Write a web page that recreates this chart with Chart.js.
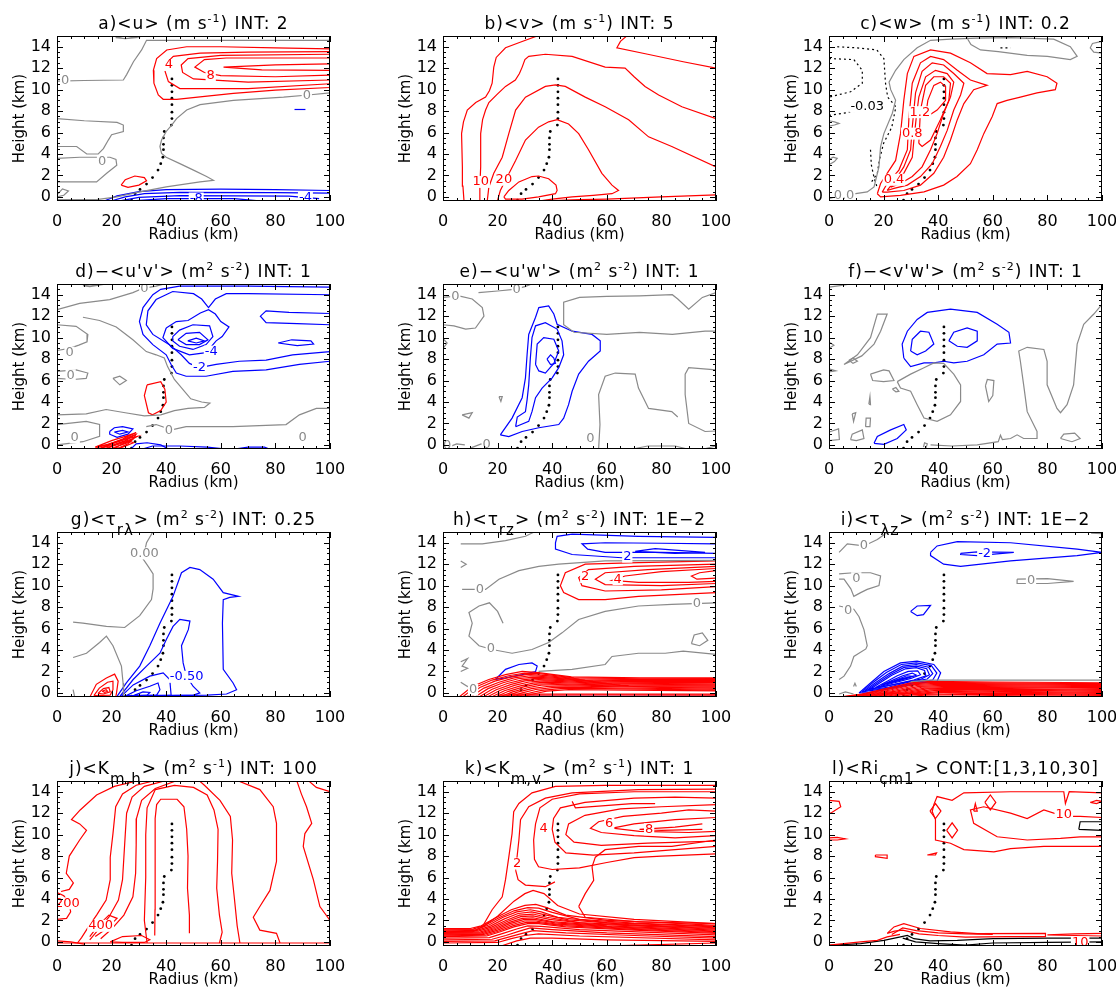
<!DOCTYPE html>
<html>
<head>
<meta charset="utf-8">
<script src="https://cdn.jsdelivr.net/npm/chart.js@4.4.1/dist/chart.umd.min.js"></script>
<style>
  body { margin: 0; background: #fff; }
  #wrap { position: relative; width: 1116px; height: 987px; overflow: hidden; background: #fff; }
  canvas { position: absolute; }
</style>
</head>
<body>
<div id="wrap"></div>
<script>
// axis ticks shared by every panel
const xTicks = [0, 20, 40, 60, 80, 100];
const yTicks = [0, 2, 4, 6, 8, 10, 12, 14];

// radius of max wind (black dots), same in all panels
const rmw = [[27.3,-0.3],[28.6,0.3],[30.4,0.7],[32.8,1.2],[35,1.8],[37,2.5],[38,3.1],[38.8,3.7],[39,4.4],[39,4.9],[39,5.5],[39.3,6.1],[41.9,6.7],[42.1,7.3],[42.1,7.9],[42.1,8.6],[42.1,9.2],[42.1,9.8],[42.1,10.4],[42.1,11.0]];

// ---- a) <u>
const aRed = [
  [[100,13.8],[80,13.9],[60,14.0],[47.5,14.0],[40.2,13.7],[36.5,12.9],[35.3,11.8],[35.5,10.6],[37.1,9.5],[38.9,9.1],[43.8,9.1],[55,9.4],[64.6,9.66],[80,9.95],[100,10.2]],
  [[100,13.55],[70,13.5],[52.4,13.4],[42.6,13.1],[40.2,12.5],[39.6,11.7],[40.8,10.75],[45,10.1],[70,10.1],[100,10.55]],
  [[100,13.3],[60,13.2],[48,12.9],[45.5,12.3],[46,11.6],[50,11.0],[70,10.7],[100,10.9]],
  [[100,12.95],[62,12.95],[54,12.8],[50.5,12.1],[54,11.6],[60,11.3],[80,11.2],[100,11.35]],
  [[100,12.4],[80,12.3],[61,12.1],[75,11.85],[100,11.8]],
  [[23.5,1.1],[25,1.6],[28.5,1.95],[32,1.8],[32.8,1.5],[30,1.1],[26,0.9],[23.5,1.1]]
];
const aBlue = [
  [[17,-0.4],[22,0.1],[30,0.5],[40,0.68],[60,0.72],[80,0.68],[100,0.6]],
  [[19.5,-0.4],[25,0.0],[32,0.3],[45,0.42],[80,0.4],[100,0.35]],
  [[22.5,-0.4],[30,-0.05],[45,0.12],[85,0.08],[96,-0.15]],
  [[26,-0.4],[40,-0.15],[65,-0.15],[75,-0.4]],
  [[87,8.15],[91,8.15]]
];
const aGray = [
  [[0,10.8],[10,10.85],[24.3,10.9],[25.5,11.4],[28,12.6],[31,13.7],[32.8,14.6],[40,14.6],[60,14.6],[100,14.6]],
  [[100,9.7],[92,9.5],[83,9.3],[64.6,9.0],[52.4,8.6],[47.5,8.1],[43.8,7.3],[42,6.7],[40,6.1],[38.3,5.3],[37.7,4.7],[38.3,4.05],[40,3.7],[45,3.1],[50,2.5],[54.8,1.9],[57.3,1.55],[52.4,1.4],[40,0.93],[30.4,0.47],[21.9,0.0],[14.5,-0.25],[0,-0.25]],
  [[0,7.3],[10,7.1],[22,6.95],[24.3,6.7],[24.3,6.1],[20,5.8],[18.8,5.3],[17,4.5],[15.1,4.0],[10.9,4.0],[7.2,4.7],[0,4.7]],
  [[0,3.6],[8.4,3.7],[19.4,3.7],[21.6,3.5],[21.9,2.96],[18.2,2.2],[14.5,1.4],[0,1.4]],
  [[0,0.2],[2,0.75],[4.2,0.55],[2.5,0.15],[0,0.0]],
  [[21.5,14.85],[25,15.0],[29,14.85],[25,14.75],[21.5,14.85]]
];
const aLabels = [[3,10.8,'0','g'],[16.5,3.3,'0','g'],[91.5,9.4,'0','g'],[41,12.3,'4','r'],[56.3,11.3,'8','r'],[51,-0.15,'-8','b'],[91,-0.1,'-4','b']];

// ---- b) <v>
const bRed = [
  [[7.7,-0.4],[7.3,1],[7.1,2.8],[6.8,5.9],[7.5,7],[8.9,8.1],[12,8.8],[15.6,9.3],[17,9.9],[18,10.6],[18.6,12.1],[19.5,13],[22.9,13.9],[28,14.4],[35,15.05]],
  [[67.5,15.05],[65,14.5],[63.7,13.9],[75,13.3],[88,12.6],[100,12.0]],
  [[13.2,-0.4],[13.5,1],[13.8,2.8],[13.8,5.9],[14.5,7.2],[15.6,8.1],[16.8,8.8],[20,9.6],[22.9,10.3],[26.5,10.9],[28,11.5],[29,12.1],[30,12.8],[31.4,13.1],[37.5,13.3],[47.3,13.1],[59.4,12.1],[66.7,12.0],[70,11.2],[74,10.3],[79,9.5],[87.5,8.4],[100,7.3]],
  [[16.2,-0.4],[16.8,0.93],[18.6,2.2],[21.7,3.7],[24.1,5.9],[26.6,8.1],[30.2,9.3],[37.5,10.3],[41.2,10.45],[44.8,10.3],[52.1,9.3],[59.4,8.4],[68,7.2],[75.3,5.6],[83.8,4.7],[100,2.8]],
  [[19.9,-0.4],[21,0.6],[22.9,1.56],[26.6,3.4],[30.2,5.3],[35,6.5],[38.7,7.0],[41.8,7.2],[46,6.8],[49.7,5.9],[53.3,4.4],[58.2,2.2],[61.9,1.1],[64.3,0.6],[61.9,0.3],[55,0.15],[47.3,0.0],[40,-0.2],[35,-0.4]],
  [[22.3,0.0],[24.1,0.6],[27.8,1.4],[32.6,1.9],[35,1.95],[38.7,1.7],[41.4,1.1],[41.8,0.6],[41.2,0.3],[35,0.0],[29,-0.2],[22.9,-0.2],[22.3,0.0]],
  [[35,-0.4],[50,-0.25],[60,-0.2],[80,0.0],[100,0.2]]
];
const bLabels = [[13.8,1.4,'10','r'],[22.3,1.6,'20','r']];

// ---- c) <w>
const cRed = [
  [[17.7,0.3],[18.9,1.25],[21.3,2.2],[24.4,3.4],[26.2,5.9],[27.4,9.0],[28.7,11.5],[31.1,13.1],[37.2,13.7],[44.5,13.4],[51.8,12.5],[57.9,11.5],[66.5,11.4],[72.6,11.7],[79.9,11.2],[83.5,10.6],[82.9,10.0],[76.2,9.7],[70.1,9.3],[65.2,9.0],[61.6,8.7],[59.8,7.5],[56.7,5.9],[54.3,4.4],[51.8,3.1],[46.9,1.9],[42,1.1],[34.8,0.47],[26.2,0.15],[18.9,0.0],[17.7,0.3]],
  [[19.5,0.45],[21.3,1.25],[25.6,2.5],[28.7,4.4],[29.3,7.5],[30.5,10.6],[33.5,12.5],[37.2,13.1],[42,12.8],[47,11.8],[51.8,10.9],[57.9,10.4],[53,10.0],[49.4,8.7],[47,7.2],[44.5,5.3],[42,3.7],[38.4,2.2],[33.5,1.1],[27.4,0.6],[21.3,0.45],[19.5,0.45]],
  [[21.3,0.6],[23.8,1.4],[27.4,2.8],[29.9,4.4],[30.5,6.5],[31.7,9.7],[34.1,11.7],[37.8,12.5],[42,12.3],[45.7,11.5],[49.4,10.6],[48.2,9.5],[45.7,8.1],[43.3,6.2],[40.8,4.7],[37.8,3.1],[33.5,1.9],[28.7,1.1],[23.8,0.8],[21.3,0.6]],
  [[22.6,0.9],[27.4,2.2],[30.5,3.7],[31.1,5.3],[32,7.5],[32.9,9.3],[35.4,11.2],[39,11.8],[43.3,11.5],[45.7,10.7],[44.5,9.3],[42,7.8],[39.6,5.9],[37.2,4.4],[34.1,2.8],[30.5,1.9],[26.2,1.25],[22.6,0.9]],
  [[32.9,5.0],[33.5,8.1],[35.4,10.4],[38.4,11.2],[42,11.2],[44.5,10.6],[43.9,9.0],[40.8,7.2],[37.2,5.3],[34.1,4.7],[32.9,5.0]],
  [[35.4,7.5],[36.2,9.0],[38.4,10.4],[40.8,10.7],[42.7,10.3],[42.7,9.0],[39.6,8.1],[36,7.5],[35.4,7.5]]
];
const cGray = [
  [[0,-0.15],[5.5,0.15],[14,0.47],[16.5,0.93],[18.3,2.8],[18.9,4.7],[20.1,5.9],[23.2,7.8],[24.4,9.0],[22.6,10.0],[22,10.7],[24.4,11.8],[27.4,12.8],[32.3,13.9],[37.2,14.6],[44.5,14.7],[54.3,14.8],[66.5,14.85],[82.3,14.7],[88.4,14.0],[90.9,13.1],[88.4,12.8],[80,13.1],[72.6,13.2],[62,13.55],[55.5,13.7],[52,14.2],[50,15.05]],
  [[100,14.5],[96.5,14.3],[95.7,13.9],[97,13.5],[100,13.4]],
  [[0,7.1],[2,7.0],[3.7,6.85],[2,6.7],[0,6.6]],
  [[0,3.0],[2,3.3],[3,3.6],[1.5,3.7],[0,3.5]]
];
const cDotted = [
  [[3,14.0],[10,13.9],[17.5,13.7],[20.1,12.9],[20.7,10.6],[21.5,9.3],[24.5,8.4],[23,6.5],[20,5.0],[18.5,3.5],[17.7,2.2],[15.2,1.25]],
  [[0,12.9],[9.1,12.8],[12.2,11.8],[12.2,10.6],[7.9,9.8],[0,9.3]],
  [[0,7.6],[7.9,7.9],[14,8.2],[20.1,8.9]],
  [[15.2,4.4],[15.5,3],[16.5,1.8],[17.5,1.0]],
  [[62.8,13.9],[66.5,13.9]]
];
const cLabels = [[14,8.4,'-0.03','k'],[5.5,0.1,'0.0','g'],[23.8,1.6,'0.4','r'],[30.5,5.9,'0.8','r'],[33.3,7.9,'1.2','r']];

// ---- d) -<u'v'>
const dBlue = [
  [[100,14.7],[70,14.8],[44.9,14.8],[38,14.5],[35.1,14.0],[31.5,12.8],[30.2,11.5],[31.5,10.3],[35.1,9.35],[40,8.4],[41.8,7.5],[43.7,6.7],[47.3,6.4],[54.6,6.4],[64.4,6.85],[76.6,7.0],[88.8,7.5],[100,7.8]],
  [[100,14.0],[70,14.1],[62,14.1],[58,13.6],[55.5,12.8],[53,13.6],[50,14.1],[42.4,14.3],[36.3,13.55],[33.3,12.5],[32.7,11.2],[35.1,10.3],[41.2,9.35],[45.5,8.4],[48.5,7.6],[52.2,7.2],[58.3,7.5],[66.8,7.8],[76.6,7.9],[86.3,8.4],[100,8.7]],
  [[100,12.25],[85,12.35],[76.6,12.5],[74.5,12.0],[76.6,11.4],[88,11.3],[100,11.2]],
  [[40,10.9],[43.7,11.5],[48,11.6],[52.5,12.3],[55.5,12.6],[58,12.2],[60,11.5],[63,11.0],[60.5,10.1],[58.3,9.7],[54.6,8.6],[48.5,8.4],[42.4,9.0],[38.8,10.0],[40,10.9]],
  [[42.4,10.1],[44.9,10.7],[49.8,11.2],[55.9,11.1],[57.1,10.1],[54.6,9.35],[49.8,8.9],[44.9,9.2],[42.4,9.7],[42.4,10.1]],
  [[44.3,9.8],[47.3,10.4],[52.2,10.5],[55.3,9.8],[52.2,9.35],[47.3,9.35],[44.3,9.8]],
  [[47.9,9.7],[51,9.95],[54,9.7],[51,9.5],[47.9,9.7]],
  [[81,9.5],[86,9.8],[93,9.7],[94,9.4],[88,9.25],[81,9.5]],
  [[19.3,1.25],[21,1.6],[24,1.7],[27.8,1.5],[26,1.0],[22,0.7],[19.3,1.0],[19.3,1.25]],
  [[21,1.2],[24,1.35],[26,1.2],[23,1.0],[21,1.2]],
  [[27,-0.4],[29,0.1],[33,0.2],[38,0.0],[41,-0.4]],
  [[31,-0.4],[35,-0.1],[45,-0.1],[55,-0.2],[62,-0.4]],
  [[65,-0.4],[70,-0.2],[76,-0.2],[78,-0.4]]
];
const dRed = [
  [[33,5.6],[38,5.9],[39.5,5.2],[40,4.0],[38,3.2],[35,2.8],[33.5,3.0],[32,4.6],[33,5.6]],
  [[13,-0.4],[18,0.0],[24,0.5],[29,1.0],[28,0.6],[22,0.1],[17,-0.4]],
  [[15,-0.4],[20,0.1],[26,0.6],[29.5,0.8],[26,0.35],[20,-0.15],[18,-0.4]],
  [[19,-0.4],[23,-0.05],[27,0.3],[28,0.2],[24,-0.2],[22,-0.4]],
  [[14,-0.2],[20,0.4],[25,0.8],[29,1.15],[24,0.55],[19,0.05],[14,-0.2]],
  [[16,-0.3],[21,0.2],[25.5,0.6],[28.5,0.9],[25,0.4],[20,-0.05],[16,-0.3]],
  [[20.5,-0.35],[24,0.1],[27.5,0.45],[26,0.1],[23,-0.25],[20.5,-0.35]]
];
const dGray = [
  [[0,12.6],[8.3,13.2],[19.3,13.55],[27.8,14.2],[31.5,14.6],[36.3,14.8],[40,15.05]],
  [[9.5,14.85],[12,14.95],[15.6,14.9],[12,14.75],[9.5,14.85]],
  [[0,11.2],[7,11.05],[11.3,10.3],[11,9.6],[8,9.3],[4.6,9.0],[0,8.8]],
  [[0,6.85],[7,7.0],[11.3,6.7],[10.7,6.2],[5.9,6.1],[0,6.2]],
  [[20.5,6.2],[23,6.4],[25.4,6.0],[23,5.6],[20.5,6.2]],
  [[9.5,11.9],[15.6,11.6],[21.7,11.0],[27.8,9.8],[32.7,8.7],[36.3,8.4],[39.3,8.1],[40.5,7.3],[43,6.1],[46,5.2],[49,4.3],[53,4.0],[56,3.9],[54,3.5],[48,3.4],[43,3.2],[38,2.8],[32,2.7],[25,3.0],[18,3.3],[10.7,2.9],[0,2.8]],
  [[0,1.9],[10.7,2.2],[15.6,1.9],[15.6,0.8],[9.5,0.3],[0,0.0]],
  [[32.7,1.7],[36.3,1.9],[42,1.4],[47.3,1.7],[64.4,1.7],[83.9,1.9],[88.8,2.8],[95,3.4],[100,3.4]]
];
const dLabels = [[32,14.6,'0','g'],[4.6,8.6,'0','g'],[5,6.5,'0','g'],[6.5,0.7,'0','g'],[41,1.3,'0','g'],[90,0.7,'0','g'],[56.5,8.7,'-4','b'],[52.2,7.2,'-2','b']];

// ---- e) -<u'w'>
const eBlue = [
  [[21,0.94],[25.3,2.5],[29,4.4],[30.2,6.25],[30.8,8.4],[31.4,10.3],[33.9,11.9],[35.1,12.8],[38.7,12.95],[40.6,12.2],[41.8,11.25],[47.3,10.6],[54.6,10.3],[57.6,9.7],[57.6,8.75],[53.3,7.8],[49.7,6.6],[47.3,5.0],[46,3.75],[44.2,2.5],[42.4,1.9],[35.1,1.6],[29,1.25],[24.1,0.78],[21,0.94]],
  [[26.6,1.7],[27.2,2.6],[30.2,3.1],[30.8,4.2],[31.4,5.6],[32,8.1],[32.6,10.0],[33.9,11.1],[37.5,11.4],[41.8,10.8],[43.6,9.7],[44.2,8.4],[42.4,7.2],[40,6.25],[36.3,5.3],[33.9,4.4],[32.6,3.1],[31.4,2.2],[26.6,1.7]],
  [[33.9,7.5],[34.5,9.4],[36.9,10.0],[40.6,9.85],[42.4,8.75],[40.6,7.6],[37.5,6.7],[35.1,6.9],[33.9,7.5]],
  [[38.1,8.0],[39.4,8.4],[40.6,8.1],[41.2,7.6],[39.4,7.5],[38.1,8.0]]
];
const eGray = [
  [[0,13.75],[5.8,13.9],[10.7,13.6],[14.4,12.8],[15,12.0],[11.9,10.9],[8.3,10.8],[4,11.1],[0,11.2]],
  [[13,14.2],[20,14.35],[26,14.5],[30,14.75],[33,15.05]],
  [[100,14.2],[95,13.75],[90,12.65],[86,13.6],[84,14.0],[72,13.9],[60,13.85],[50,13.75],[44.2,13.3],[44.2,11.2],[48,10.5],[60,10.3],[72,10.5],[84,10.3],[96,10.6],[100,10.6]],
  [[100,7.0],[90,7.2],[88.7,6.6],[88.7,4.7],[90,2.0],[96,1.25],[100,1.3]],
  [[57,-0.4],[57.5,1.9],[57,4.7],[59.4,6.4],[63.1,6.7],[70.4,6.6],[71.6,5.3],[75.3,3.4],[83.8,3.1],[86,2.6]],
  [[20.5,4.5],[21.7,4.5],[21.2,4.05],[20.5,4.5]],
  [[7,2.8],[10.7,3.0],[9.5,2.5],[7,2.8]],
  [[0,9.9],[1.5,9.5],[0,9.0]],
  [[53.3,0.6],[54.5,0.85],[55,0.5],[53.8,0.35],[53.3,0.6]],
  [[2,-0.2],[5,0.1],[8,0.0]],
  [[10,-0.3],[14,0.1],[17,-0.1]],
  [[69,-0.4],[75,-0.1],[85,-0.1],[90,-0.4]],
  [[95,-0.4],[100,-0.1]]
];
const eLabels = [[4.5,13.8,'0','g'],[27,14.45,'0','g'],[1.5,-0.1,'0','g'],[16,0.0,'0','g'],[54,0.6,'0','g']];

// ---- f) -<v'w'>
const fBlue = [
  [[27.4,8.1],[26.8,9.4],[28.7,10.6],[32.3,11.7],[36,12.35],[44.5,12.65],[54.3,12.35],[61.6,11.25],[65.9,10.5],[66.5,9.5],[61.6,9.4],[56.7,8.4],[50.6,7.8],[45.7,7.65],[42,7.8],[38.4,7.65],[34.8,7.65],[29.9,7.3],[27.4,8.1]],
  [[29.9,8.75],[30.5,9.85],[33.5,10.6],[36.6,10.5],[38.4,9.4],[35.4,8.75],[32.3,8.4],[29.9,8.75]],
  [[43.9,9.7],[45.7,10.5],[50.6,10.9],[54.3,10.6],[54.3,9.7],[50.6,9.1],[47,9.2],[43.9,9.7]],
  [[16.5,0.15],[17.7,0.78],[22.6,1.4],[27.4,1.9],[28.3,1.4],[25,0.6],[20.1,0.06],[16.5,0.15]]
];
const fGray = [
  [[0,14.7],[4,14.85],[8,15.0]],
  [[5.5,7.5],[10.4,8.4],[15.2,10.0],[17.7,12.2],[21.3,12.2],[18.9,10.6],[16.5,9.4],[12,8.3],[5.5,7.5]],
  [[7.3,7.9],[8.8,8.1],[10.4,7.8],[8.8,7.6],[7.3,7.9]],
  [[0,9.0],[1.8,9.3],[0,9.6]],
  [[0,6.8],[2.5,6.9],[0,7.1]],
  [[15.2,6.6],[20,7.0],[22,6.9],[23.8,6.0],[20,5.9],[16,6.0],[15.2,6.6]],
  [[23.2,5.2],[24.5,5.35],[25.6,5.0],[24.5,4.95],[23.2,5.2]],
  [[14.6,3.8],[15.0,4.5],[15.2,3.75],[14.6,3.8]],
  [[8.5,2.9],[9.8,3.0],[9.0,2.2],[8.5,2.9]],
  [[13.4,1.7],[13.6,2.5],[15.2,2.5],[15.0,1.7],[13.4,1.7]],
  [[7.9,0.5],[8.5,1.0],[12.2,1.4],[12.8,0.6],[10,0.4],[7.9,0.5]],
  [[0,1.2],[3.5,1.5],[3.8,0.5],[0,0.4]],
  [[25,5.9],[29.9,6.6],[34.8,7.2],[38.4,7.65],[42,7.6],[45.7,6.6],[48.2,5.6],[48.2,4.05],[44.5,2.8],[39.6,2.2],[34.8,2.5],[32.3,3.75],[29.9,5.0],[26.2,5.3],[25,5.9]],
  [[37.2,0.0],[45,-0.1],[54.3,0.0],[62,0.3],[62.8,0.9],[63.5,0.5],[66.5,0.6],[68.9,0.94],[71.3,0.6],[76.2,0.6],[76.2,1.25],[72.6,3.1],[71.3,5.6],[70.1,7.8],[69.5,8.75],[72.6,9.1],[78.7,8.9],[79.9,7.8],[79.9,5.6],[83.5,3.4],[84.8,3.0],[87.2,3.75],[89.6,5.6],[90.9,9.4],[93.3,11.25],[97,12.2],[100,13.1]],
  [[57.3,5.5],[58,6.1],[60.4,6.0],[60,4.6],[58.5,4.05],[57.3,5.5]],
  [[84.8,0.6],[86,1.0],[90,1.1],[92,0.6],[89,0.3],[84.8,0.6]],
  [[34.6,-0.2],[35,0.2],[36,0.1],[35.5,-0.3]]
];
const fLabels = [];

// ---- g) <tau_r lambda>
const gGray = [
  [[35.2,15.05],[32.8,14.0],[31.5,12.5],[33.4,11.8],[35.2,11.1],[35.2,9.7],[34.6,8.7],[30.3,7.2],[24.8,6.1],[18.1,6.2],[9.5,6.5],[5.9,6.6]],
  [[5.9,3.3],[10.8,3.7],[15.6,4.7],[18.1,5.3],[20.5,4.4],[23.6,2.5],[24.2,0.93],[24.4,-0.4]],
  [[5.9,0.3],[6.5,-0.4]]
];
const gRed = [
  [[12,-0.4],[14.4,0.8],[18.1,1.4],[21.1,1.75],[22.4,1.1],[21.8,0.0],[21.5,-0.4]],
  [[13.5,-0.25],[15.5,0.45],[18.5,1.0],[20.5,1.1],[20.5,0.3],[19.5,-0.2],[13.5,-0.25]],
  [[15,-0.05],[17,0.4],[19,0.5],[19.5,0.1],[17,-0.1],[15,-0.05]],
  [[16.5,0.15],[18,0.3],[18.5,0.15],[17.5,0.05],[16.5,0.15]]
];
const gBlue = [
  [[21.8,-0.4],[25.4,0.93],[30.3,2.5],[34,4.4],[37.7,6.5],[42.5,9.0],[45.6,11.2],[48.7,11.7],[52.3,11.5],[57.2,10.6],[60.9,9.35],[66.5,9.0],[63.3,8.9],[60.9,8.7],[60.6,6.5],[60.9,2.2],[64.5,0.93],[65.8,0.3],[62.1,-0.1],[55,-0.2],[40,-0.25],[22,-0.4]],
  [[22.8,-0.4],[27.9,1.25],[32.8,2.5],[37.7,3.7],[40.1,5.0],[42.5,6.2],[45,6.85],[48.7,6.7],[48.1,5.9],[45.6,4.4],[46.2,2.8],[47.4,1.56],[49.9,0.6],[52.3,0.0],[50,-0.2],[24,-0.3]],
  [[23.6,-0.3],[27.9,0.75],[34,1.56],[38.9,1.87],[41.3,1.25],[41.8,-0.2],[30,-0.25],[23.6,-0.3]],
  [[25,-0.3],[29,0.2],[34,0.62],[37,0.93],[37.7,0.3],[36.5,-0.2],[25,-0.3]],
  [[28,-0.25],[31.5,0.1],[34,0.05],[33,-0.2],[28,-0.25]]
];
const gLabels = [[32,13.0,'0.00','g'],[47.5,1.5,'-0.50','b']];

// ---- h) <tau_rz>
const hBlue = [
  [[100,14.5],[71.6,14.6],[47.3,14.8],[41.8,14.6],[41.2,14.0],[41.2,13.4],[47.3,12.9],[65.5,12.6],[100,12.6]],
  [[100,13.9],[80,13.95],[59.4,14.0],[50.9,13.9],[53,13.4],[59.4,13.1],[80,13.1],[100,13.0]],
  [[70.4,13.2],[77.7,13.45],[96,13.1],[85,13.0],[70.4,13.2]],
  [[19.2,1.25],[22.9,2.2],[27.8,2.65],[32.6,2.8],[34.5,2.5],[33.9,2.0],[29,1.7],[22.9,1.4],[19.2,1.25]],
  [[27,-0.32],[60,-0.32],[100,-0.32]]
];
const hRed = [
  [[100,12.3],[71.6,12.15],[52.1,12.0],[44.8,11.2],[43,10.0],[44.2,9.35],[49.7,8.7],[59.4,8.7],[71.6,9.0],[100,9.35]],
  [[100,12.0],[70,11.8],[53.3,11.5],[49.7,10.75],[50.9,10.0],[59.4,9.5],[80,9.6],[100,9.9]],
  [[100,11.8],[75,11.5],[59.4,11.2],[55.8,10.6],[59.4,10.1],[80,10.0],[100,10.2]],
  [[100,11.6],[80,11.3],[66.7,10.9],[61.9,10.5],[71.6,10.3],[90,10.3],[100,10.4]],
  [[100,11.4],[94,11.2],[91,10.9],[93,10.6],[100,10.7]],
  [[5.8,-0.4],[10.7,0.6],[16.8,1.25],[22.9,1.7],[29,2.0],[35,1.9],[47,1.5],[72,1.4],[100,1.4]],
  [[7,-0.4],[12,0.55],[18,1.2],[24,1.6],[30,1.85],[36,1.78],[48,1.4],[72,1.32],[100,1.33]],
  [[8.5,-0.4],[13.5,0.5],[19,1.1],[25,1.5],[31,1.72],[38,1.62],[50,1.3],[74,1.24],[100,1.25]],
  [[10,-0.4],[15,0.45],[20.5,1.0],[26,1.4],[32,1.6],[40,1.48],[52,1.2],[75,1.15],[100,1.17]],
  [[11.5,-0.4],[16.5,0.4],[22,0.95],[27.5,1.32],[33,1.48],[42,1.36],[55,1.1],[78,1.06],[100,1.08]],
  [[13,-0.4],[18,0.35],[23.5,0.88],[29,1.22],[34,1.36],[44,1.24],[58,1.0],[80,0.97],[100,0.99]],
  [[14.5,-0.4],[19.5,0.3],[25,0.8],[30,1.12],[35,1.24],[46,1.12],[60,0.92],[80,0.89],[100,0.9]],
  [[16,-0.4],[21,0.25],[26.5,0.72],[31.5,1.02],[37,1.12],[48,1.0],[62,0.84],[82,0.8],[100,0.81]],
  [[17.5,-0.4],[22.5,0.2],[28,0.64],[33,0.92],[38,1.0],[50,0.9],[65,0.76],[85,0.72],[100,0.72]],
  [[19,-0.4],[24,0.15],[29.5,0.56],[34.5,0.82],[40,0.88],[52,0.8],[68,0.68],[100,0.63]],
  [[20.5,-0.4],[25.5,0.1],[31,0.48],[36,0.72],[42,0.77],[55,0.7],[70,0.6],[100,0.54]],
  [[22,-0.4],[27,0.05],[32.5,0.4],[38,0.6],[45,0.65],[60,0.58],[100,0.45]],
  [[24,-0.4],[29,0.0],[34,0.32],[40,0.5],[48,0.53],[65,0.46],[100,0.36]],
  [[26,-0.4],[31,-0.05],[36,0.24],[43,0.4],[52,0.42],[100,0.27]],
  [[28,-0.4],[33,-0.1],[38,0.16],[46,0.3],[100,0.2]],
  [[20,-0.2],[60,-0.19],[100,-0.2]],
  [[24,-0.12],[40,-0.1],[100,-0.12]]
];
const hGray = [
  [[6.5,13.9],[14.4,13.9],[22.9,14.2],[30.2,14.6],[33.8,15.05]],
  [[6.5,12.3],[8.5,12.0],[6.5,11.7]],
  [[7,9.65],[12,9.65],[15.6,9.65],[20.5,10.6],[27.8,11.4],[35.1,11.8],[42.4,12.0],[59.4,12.3],[100,12.35]],
  [[100,8.4],[83.8,8.25],[71.6,8.1],[59.4,7.6],[49.7,6.85],[43.6,5.6],[38.7,4.7],[32.6,4.05],[25.3,3.7],[18,4.05],[13.2,4.4],[9.5,5.3],[10.7,6.5],[9.5,7.5],[13.2,8.1],[17,8.4],[20,7.6],[22,6.5]],
  [[35,2.0],[47.3,2.2],[59.4,2.65],[61.9,3.4],[71.6,3.7],[81.4,3.7],[88,3.9],[100,3.6]],
  [[91,4.6],[92,5.4],[95,5.6],[97,4.9],[94,4.4],[91,4.6]],
  [[6.5,2.9],[9,3.2],[7,2.5],[9,2.3],[6.5,2.0]],
  [[6.5,1.0],[9,0.6],[11,0.8]]
];
const hLabels = [[52.1,10.8,'2','r'],[64,10.6,'4','r'],[67.5,12.7,'2','b'],[13.5,9.65,'0','g'],[17.5,4.1,'0','g'],[93,8.3,'0','g'],[11,0.3,'0','g']];

// ---- i) <tau_lambda z>
const iBlue = [
  [[37.2,13.1],[39.6,13.7],[47,14.1],[66.5,14.0],[90.9,13.4],[100,13.1],[90.9,12.8],[66.5,12.3],[48.2,11.8],[42,12.0],[37.2,12.8],[37.2,13.1]],
  [[48.2,13.0],[54.3,13.15],[67.7,13.1],[54.3,12.8],[48.2,12.9],[48.2,13.0]],
  [[29.9,7.6],[32.3,8.1],[37.2,8.15],[34.6,7.3],[32.3,7.2],[29.9,7.6]],
  [[11,0.0],[15.2,0.93],[20.1,2.0],[26.2,2.8],[32.3,2.96],[38.4,2.65],[40.9,1.87],[39.6,1.1],[33.5,0.93],[23.8,0.47],[14,0.0],[11,0.0]],
  [[12,0.1],[16,0.95],[21,1.9],[26.5,2.65],[32,2.8],[37.5,2.55],[39.5,1.85],[38,1.2],[32,1.0],[23,0.5],[12,0.1]],
  [[13,0.2],[17,0.95],[22,1.8],[27,2.5],[32,2.65],[36.5,2.4],[38,1.8],[36,1.3],[30,1.05],[22,0.55],[13,0.2]],
  [[14,0.28],[18,0.98],[22.5,1.72],[27.5,2.38],[32,2.5],[35.8,2.25],[36.8,1.7],[33.5,1.25],[27,0.95],[20,0.6],[14,0.28]],
  [[15,0.35],[19,1.0],[23,1.65],[28,2.25],[32,2.35],[35,2.1],[35.5,1.6],[31,1.2],[24,0.8],[15,0.35]],
  [[17,0.5],[21,1.05],[25,1.6],[29,2.0],[32.5,2.05],[33.5,1.7],[30,1.35],[24,0.95],[17,0.5]],
  [[19,0.7],[23,1.15],[27,1.6],[30.5,1.85],[32,1.65],[29,1.4],[24,1.05],[19,0.7]],
  [[21,0.85],[25,1.25],[28.5,1.6],[30.5,1.55],[27,1.3],[21,0.85]],
  [[23,1.0],[27,1.35],[29,1.45],[26,1.2],[23,1.0]]
];
const iRed = [
  [[3.7,-0.4],[12,-0.1],[20,0.35],[29.9,0.93],[37.2,1.08],[60,1.02],[100,0.95]],
  [[4.5,-0.4],[13,-0.1],[21,0.3],[30.5,0.85],[38,0.98],[60,0.93],[100,0.86]],
  [[5.5,-0.4],[14,-0.1],[22,0.25],[31,0.77],[39,0.89],[65,0.84],[100,0.77]],
  [[6.5,-0.4],[15,-0.1],[23,0.2],[32,0.69],[40,0.8],[70,0.75],[100,0.68]],
  [[8,-0.4],[16.5,-0.1],[24,0.15],[33,0.61],[42,0.71],[70,0.66],[100,0.59]],
  [[9.5,-0.4],[18,-0.1],[25,0.1],[34,0.53],[44,0.62],[70,0.57],[100,0.5]],
  [[11,-0.4],[19.5,-0.1],[26.5,0.06],[35,0.45],[46,0.53],[75,0.48],[100,0.41]],
  [[13,-0.4],[21,-0.1],[28,0.02],[36,0.37],[48,0.44],[75,0.39],[100,0.32]],
  [[15,-0.4],[22.5,-0.1],[29.5,0.0],[37,0.29],[50,0.35],[80,0.3],[100,0.23]],
  [[17,-0.4],[24,-0.1],[31,-0.02],[38.5,0.21],[52,0.26],[80,0.21],[100,0.14]],
  [[19,-0.4],[26,-0.1],[33,-0.04],[40,0.13],[55,0.17],[100,0.05]],
  [[21,-0.4],[28,-0.12],[35,-0.06],[42,0.05],[60,0.08],[100,-0.04]],
  [[24,-0.4],[31,-0.15],[40,-0.1],[60,-0.02],[100,-0.13]],
  [[27,-0.4],[35,-0.2],[60,-0.12],[100,-0.22]],
  [[30,-0.4],[60,-0.25],[100,-0.31]]
];
const iGray = [
  [[3.7,13.1],[6.7,13.9],[12.8,13.7],[17.7,14.3],[21.3,14.95]],
  [[3.7,11.1],[9,11.2],[15.2,11.2],[18.9,10.9],[18.3,10.0],[14,9.65],[11.6,9.35],[9.1,9.0],[8,9.7],[5.5,10.6],[3.7,10.6]],
  [[3.7,8.1],[9.1,7.8],[11,7.1],[12.8,5.9],[14,4.4],[13.5,4.1],[9.1,3.4],[7.9,2.5],[5.5,1.56],[3.7,1.25]],
  [[68.9,10.6],[80,10.65],[89.6,10.4],[80,10.2],[68.9,10.2],[68.9,10.6]],
  [[29.9,1.05],[37.2,1.2],[60,1.2],[100,1.2]],
  [[96,14.9],[100,14.85]],
  [[9,0.6],[9.5,0.9],[10,0.6]],
  [[3.7,-0.1],[6,0.1],[9,-0.1]]
];
const iLabels = [[12.8,13.7,'0','g'],[10,10.7,'0','g'],[7,7.7,'0','g'],[74,10.45,'0','g'],[57,13.0,'-2','b']];

// ---- j) <K_m,h>
const jRed = [
  [[0,4.6],[2.5,4.3],[4.5,3.6],[5,2.8],[3.5,2.2],[0,2.1]],
  [[30,15.05],[21,14.5],[14.5,13.7],[8.5,12.3],[5.3,11.4],[8.3,11.0],[10.8,10.4],[8.3,9.5],[4.5,8.0],[3.4,6.4],[6,5.5],[4.5,4.9],[1.5,4.7]],
  [[36,15.05],[29,14.6],[24,13.8],[21.5,12.6],[20.5,10.1],[19.5,7.9],[19.5,5.8],[18,3.9],[14.5,2.5],[11.5,1.4],[9,0.4],[7.5,-0.1]],
  [[40,15.05],[32,14.5],[27.5,13.5],[25.5,12],[25,10],[24.5,7.9],[24,5.8],[22.5,3.9],[19,2.3],[15,1.1],[12,0.2]],
  [[44,15.05],[36,14.3],[31,13.2],[29.1,11.5],[29,9],[28.8,6.4],[27.8,4.2],[24.5,2.5],[20,1.2],[16,0.3]],
  [[33,-0.1],[32,2],[32.5,6],[32.5,10],[33,12.5],[36,14.2],[43,14.6],[50,14.4],[55,13.7],[57.5,12.3],[59,10.5],[58.8,7.5],[58.5,5],[59.5,2.5],[60.5,0.9],[59.5,-0.1]],
  [[35.8,0.6],[35.9,3],[35.9,7],[36,11.5],[36.5,12.8],[38,13.3],[44,13.3],[46.5,12.6],[47.5,10.5],[48,8],[47.8,5],[48.5,2.5],[48.5,0.8]],
  [[67,-0.1],[66,1.5],[65,4],[64,6.4],[64.3,9.5],[63.5,11.7],[59.7,13.2],[54,14.6],[52,15.05]],
  [[81.7,-0.1],[80.4,0.8],[74.3,1.1],[71.9,2.3],[74.3,3.3],[78,4.8],[80.4,7.5],[80.4,11.05],[79.2,12.6],[74.3,14.2],[66,15.05]],
  [[100,2.0],[96.3,3.3],[93.9,5.8],[90.2,8.9],[90.8,10.1],[93.3,11.05],[91.4,12.6],[89.5,13.8],[87.8,15.05]],
  [[92,15.05],[95,14.4],[100,14.0]],
  [[19.5,0.0],[24,0.5],[31,0.6],[34,0.2],[32,-0.05],[24,-0.05],[19.5,0.0]],
  [[0,-0.1],[100,-0.1]],
  [[0,0.1],[5,0.0],[10,-0.2]],
  [[12,0.5],[15,1.5],[19,2.5],[22,2.2],[18,1.2],[14,0.5]]
];
const jLabels = [[3.8,3.6,'200','r'],[16,1.5,'400','r']];

// ---- k) <K_m,v>
const kRed = [
  [[0,0.93],[10.7,0.93],[14.4,1.4],[18,3.0],[21.7,4.2],[22.9,5.8],[24.1,7.9],[25.3,10.1],[25.9,12.15],[27.8,12.9],[32.6,13.9],[41.2,14.5],[59.4,14.6],[100,14.6]],
  [[26.6,6.7],[27.8,9.5],[28.4,11.4],[31.4,12.6],[37.5,13.4],[47.3,13.9],[71.6,14.2],[100,14.25]],
  [[26.6,6.7],[27.5,5.8],[30.2,5.3],[37.5,5.15],[41,5.6]],
  [[100,14.0],[70,14.0],[50,13.8],[40,13.3],[35.5,12.5],[33.9,11],[33.2,9.5],[33.5,7.7],[35,7.0],[40,6.75],[50,6.9],[60,7.4],[70,7.85],[80,8.0],[100,8.2]],
  [[100,13.4],[85,13.5],[70,13.4],[52,13.0],[43,12.5],[40.5,11.5],[40,10.5],[41,9.3],[45,8.3],[55,8.1],[70,8.3],[85,8.6],[100,8.9]],
  [[100,12.8],[80,12.6],[65,12.4],[52,11.8],[46,11.0],[45,10],[48,9.3],[58,9.0],[75,9.2],[100,9.4]],
  [[100,12.2],[90,12.3],[80,12.0],[66,11.7],[57,11.2],[54,10.6],[58,10.2],[70,9.9],[85,9.7],[100,9.9]],
  [[100,11.6],[85,11.4],[70,11.0],[62,10.6],[72,10.3],[90,10.2],[100,10.3]],
  [[95,11.0],[85,10.7],[72,10.5],[80,10.4],[95,10.5]],
  [[47.3,13.1],[48.5,12.5],[59.4,12.7],[69.2,12.9],[77.7,12.9]],
  [[49.7,3.3],[52.1,4.5],[55.2,5.75],[54.6,7.0],[55.8,7.9],[59.4,8.6],[71.6,8.9],[83.8,8.9],[100,9.5]],
  [[49.7,3.3],[52.1,2.3],[71.6,1.87],[100,1.7]],
  [[14.4,1.4],[20,2.4],[26,3.8],[30,4.5],[33,4.8],[37,4.5],[42,3.4],[50,2.6],[70,2.1],[100,1.7]],
  [[0,1.25],[10,1.25],[14,1.5],[19,2.2],[25,3.0],[30,3.4],[34,3.5],[38,3.2],[45,2.5],[60,2.0],[80,1.8],[100,1.55]],
  [[0,1.18],[11,1.2],[15.5,1.55],[20.5,2.25],[26,2.9],[31,3.2],[35,3.15],[40,2.75],[50,2.1],[70,1.75],[100,1.48]],
  [[0,1.1],[12,1.15],[17,1.6],[22,2.3],[27,2.8],[32,3.0],[36,2.8],[42,2.3],[60,1.8],[100,1.4]],
  [[0,1.02],[12.5,1.08],[17.5,1.5],[22.5,2.15],[27.5,2.65],[32.5,2.8],[37,2.55],[46,2.05],[68,1.62],[100,1.32]],
  [[0,0.95],[13,1.0],[18,1.4],[23,2.0],[28,2.5],[33,2.6],[38,2.3],[50,1.8],[75,1.5],[100,1.25]],
  [[0,0.88],[13.5,0.92],[18.5,1.32],[23.5,1.9],[28.5,2.35],[33,2.42],[39,2.1],[55,1.65],[100,1.18]],
  [[0,0.8],[14,0.85],[19,1.25],[24,1.8],[29,2.2],[33,2.25],[40,1.9],[60,1.5],[100,1.1]],
  [[0,0.72],[14.5,0.78],[19.5,1.18],[24.5,1.7],[29.5,2.08],[33.5,2.1],[41,1.78],[62,1.4],[100,1.02]],
  [[0,0.65],[15,0.7],[20,1.1],[25,1.6],[30,1.95],[34,1.95],[42,1.65],[65,1.3],[100,0.95]],
  [[0,0.57],[15.5,0.62],[20.5,1.02],[25.5,1.5],[30.5,1.82],[34.5,1.82],[44,1.52],[68,1.2],[100,0.88]],
  [[0,0.5],[16,0.55],[21,0.95],[26,1.4],[31,1.7],[35,1.7],[45,1.4],[70,1.1],[100,0.8]],
  [[0,0.35],[17,0.4],[22,0.8],[27,1.2],[31,1.5],[36,1.45],[50,1.15],[100,0.65]],
  [[0,0.2],[18,0.25],[23,0.6],[28,1.0],[32,1.3],[40,1.15],[60,0.85],[100,0.5]],
  [[0,0.05],[19,0.1],[24,0.45],[29,0.8],[33,1.05],[45,0.85],[70,0.6],[100,0.35]],
  [[0,-0.1],[20,-0.05],[25,0.3],[30,0.6],[35,0.75],[50,0.55],[100,0.2]],
  [[21,-0.4],[27,0.1],[32,0.35],[40,0.35],[60,0.2],[100,0.05]],
  [[58,-0.4],[100,-0.1]]
];
const kLabels = [[27.2,7.3,'2','r'],[36.9,10.6,'4','r'],[60.9,11.05,'6','r'],[75.5,10.5,'8','r']];

// ---- l) <Ri_cm1>
const lRed = [
  [[0,13.2],[3.7,13.1],[4.3,12.6],[0.6,12.0],[0,12.0]],
  [[0,9.7],[3,9.75],[6,9.6],[3,9.5],[0,9.5]],
  [[17,8.1],[21.3,8.1],[21.3,7.8],[17,7.95],[17,8.1]],
  [[36,8.1],[39.4,8.3],[39,8.1],[36,8.1]],
  [[100,13.9],[88,14.0],[86.6,12.9],[86,14.0],[66.5,14.0],[49.4,13.9],[45.1,13.2],[39.6,13.55],[38.4,12.8],[37.8,12.15],[39,11.4],[39,9.5],[44.5,9.2],[49.4,8.6],[60.4,8.4],[66.5,8.7],[78.7,8.9],[90,8.9],[100,8.9]],
  [[100,11.6],[92,11.7],[86,11.7],[78.7,12.3],[72.6,11.5],[66.5,12.0],[56.7,12.6],[51.8,12.3],[53,11.05],[61.6,9.8],[72.6,9.5],[84.8,9.65],[92,9.8],[100,9.8]],
  [[37,12.2],[39,12.9],[41,12.2],[39,11.5],[37,12.2]],
  [[43.1,10.4],[45.1,11.1],[47.1,10.4],[45.1,9.7],[43.1,10.4]],
  [[57.1,13.0],[59.1,13.7],[61.1,13.0],[59.1,12.3],[57.1,13.0]],
  [[53,12.2],[53.6,12.9],[54.3,12.2],[53,12.2]],
  [[95.7,13.0],[98,13.2],[100,13.1],[98,12.9],[95.7,13.0]],
  [[21.3,0.8],[23.8,1.4],[27.4,1.7],[33.5,1.25],[44.5,0.93],[54.3,0.78],[79.3,0.8],[79.3,0.5],[65,0.5],[50,0.45],[40,0.6],[33,0.75],[27,1.1],[24,1.0],[21.3,0.8]],
  [[23,0.7],[27,1.3],[32,1.05],[40,0.85],[50,0.75],[60,0.7]],
  [[100,0.8],[90,0.75],[80,0.65],[90,0.6],[100,0.55]],
  [[0,-0.3],[11.6,0.0],[17.7,0.15],[21.3,0.47],[26,0.7]]
];
const lBlack = [
  [[0,-0.32],[11.6,-0.15],[20.1,0.15],[26.2,0.47],[28.7,0.6],[31.1,0.3],[37,0.1],[47,0.15],[60,0.3],[80,0.35],[100,0.35]],
  [[27,0.35],[31.7,0.0],[40,-0.15],[50,-0.3],[60,-0.1],[80,-0.05],[100,0.0]],
  [[91.5,10.5],[92,11.2],[100,11.2],[100,10.4],[91.5,10.5]]
];
const lLabels = [[86,11.9,'10','r'],[92,-0.05,'10','r']];

// titles: [text, 0 normal / 1 superscript / 2 subscript]
const titles = [
  [['a)<u> (m s',0],['-1',1],[') INT: 2',0]],
  [['b)<v> (m s',0],['-1',1],[') INT: 5',0]],
  [['c)<w> (m s',0],['-1',1],[') INT: 0.2',0]],
  [["d)\u2212<u'v'> (m",0],['2',1],[' s',0],['-2',1],[') INT: 1',0]],
  [["e)\u2212<u'w'> (m",0],['2',1],[' s',0],['-2',1],[') INT: 1',0]],
  [["f)\u2212<v'w'> (m",0],['2',1],[' s',0],['-2',1],[') INT: 1',0]],
  [['g)<\u03c4',0],['r\u03bb',2],['> (m',0],['2',1],[' s',0],['-2',1],[') INT: 0.25',0]],
  [['h)<\u03c4',0],['rz',2],['> (m',0],['2',1],[' s',0],['-2',1],[') INT: 1E\u22122',0]],
  [['i)<\u03c4',0],['\u03bbz',2],['> (m',0],['2',1],[' s',0],['-2',1],[') INT: 1E\u22122',0]],
  [['j)<K',0],['m,h',2],['> (m',0],['2',1],[' s',0],['-1',1],[') INT: 100',0]],
  [['k)<K',0],['m,v',2],['> (m',0],['2',1],[' s',0],['-1',1],[') INT: 1',0]],
  [['l)<Ri',0],['cm1',2],['> CONT:[1,3,10,30]',0]]
];

const colors = { r: '#ff0000', b: '#0000ff', g: '#8a8a8a', k: '#000000' };
const FONT = 'DejaVu Sans';

const panels = [
  { gray: aGray, red: aRed, blue: aBlue, labels: aLabels },
  { red: bRed, labels: bLabels },
  { gray: cGray, red: cRed, dotted: cDotted, labels: cLabels },
  { gray: dGray, red: dRed, blue: dBlue, labels: dLabels },
  { gray: eGray, blue: eBlue, labels: eLabels },
  { gray: fGray, blue: fBlue, labels: fLabels },
  { gray: gGray, red: gRed, blue: gBlue, labels: gLabels },
  { gray: hGray, red: hRed, blue: hBlue, labels: hLabels },
  { gray: iGray, red: iRed, blue: iBlue, labels: iLabels },
  { red: jRed, labels: jLabels },
  { red: kRed, labels: kLabels },
  { red: lRed, black: lBlack, labels: lLabels }
];

const toXY = line => line.map(p => ({ x: p[0], y: p[1] }));

function lineSets(lines, color, dash) {
  return (lines || []).map(l => ({
    data: toXY(l), borderColor: color, borderWidth: 1.2, borderDash: dash || [],
    showLine: true, pointRadius: 0, fill: false, tension: 0
  }));
}

// box with inward ticks, IDL style
const framePlugin = {
  id: 'frame',
  afterDraw(chart) {
    const { ctx, chartArea: a, scales: { x, y } } = chart;
    ctx.save();
    ctx.strokeStyle = '#000';
    ctx.lineWidth = 1;
    ctx.strokeRect(a.left + 0.5, a.top + 0.5, a.right - a.left - 1, a.bottom - a.top - 1);
    ctx.beginPath();
    for (let v = 0; v <= 100; v += 5) {
      const px = Math.round(x.getPixelForValue(v)) + 0.5;
      const len = v % 20 === 0 ? 6 : 3;
      ctx.moveTo(px, a.bottom); ctx.lineTo(px, a.bottom - len);
      ctx.moveTo(px, a.top); ctx.lineTo(px, a.top + len);
    }
    for (let v = 0; v <= 15; v += 0.5) {
      const py = Math.round(y.getPixelForValue(v)) + 0.5;
      const len = v % 2 === 0 ? 6 : 3;
      ctx.moveTo(a.left, py); ctx.lineTo(a.left + len, py);
      ctx.moveTo(a.right, py); ctx.lineTo(a.right - len, py);
    }
    ctx.stroke();
    ctx.restore();
  }
};

// contour value labels
const labelPlugin = {
  id: 'clabels',
  afterDatasetsDraw(chart) {
    const { ctx, chartArea: a, scales: { x, y } } = chart;
    const labels = chart.config.options.plugins.clabels.items;
    ctx.save();
    ctx.beginPath();
    ctx.rect(a.left, a.top, a.right - a.left, a.bottom - a.top);
    ctx.clip();
    ctx.font = '13px ' + FONT;
    ctx.textAlign = 'center';
    ctx.textBaseline = 'middle';
    labels.forEach(([r, z, t, c]) => {
      const px = x.getPixelForValue(r), py = y.getPixelForValue(z);
      const w = ctx.measureText(t).width;
      ctx.fillStyle = '#fff';
      ctx.fillRect(px - w / 2 - 1, py - 6, w + 2, 12);
      ctx.fillStyle = colors[c];
      ctx.fillText(t, px, py);
    });
    ctx.restore();
  }
};

// title with super/subscripts
const titlePlugin = {
  id: 'rtitle',
  afterDraw(chart) {
    const { ctx, chartArea: a } = chart;
    const segs = chart.config.options.plugins.rtitle.segs;
    const fNorm = '17px ' + FONT, fSup = '11px ' + FONT, fSub = '15px ' + FONT;
    ctx.save();
    ctx.letterSpacing = '1px';
    let total = 0;
    segs.forEach(([t, m]) => { ctx.font = m === 0 ? fNorm : (m === 1 ? fSup : fSub); total += ctx.measureText(t).width; });
    let cx = (a.left + a.right) / 2 - total / 2;
    const base = a.top - 7;
    ctx.fillStyle = '#000';
    ctx.textBaseline = 'alphabetic';
    ctx.textAlign = 'left';
    segs.forEach(([t, m]) => {
      ctx.font = m === 0 ? fNorm : (m === 1 ? fSup : fSub);
      const dy = m === 1 ? -7 : (m === 2 ? 10 : 0);
      ctx.fillText(t, cx, base + dy);
      cx += ctx.measureText(t).width;
    });
    ctx.restore();
  }
};

const wrap = document.getElementById('wrap');
const colLeft = [0, 386, 772];
const rowTop = [0, 248, 496, 745];

panels.forEach((p, i) => {
  const cv = document.createElement('canvas');
  cv.width = 386; cv.height = 248;
  cv.style.left = colLeft[i % 3] + 'px';
  cv.style.top = rowTop[Math.floor(i / 3)] + 'px';
  wrap.appendChild(cv);

  const datasets = [].concat(
    lineSets(p.gray, colors.g),
    lineSets(p.dotted, colors.k, [2, 3]),
    lineSets(p.red, colors.r),
    lineSets(p.blue, colors.b),
    lineSets(p.black, colors.k),
    [{ data: toXY(rmw), showLine: false, pointRadius: 1.4, pointBorderWidth: 0, pointBackgroundColor: '#000' }]
  );

  const tickFont = { family: FONT, size: 16 };
  const titleFont = { family: FONT, size: 15 };
  new Chart(cv, {
    type: 'scatter',
    data: { datasets },
    options: {
      responsive: false,
      animation: false,
      events: [],
      layout: { padding: { top: 36, right: 56, left: 0, bottom: 0 } },
      plugins: {
        legend: { display: false },
        tooltip: { enabled: false },
        clabels: { items: p.labels },
        rtitle: { segs: titles[i] }
      },
      scales: {
        x: {
          type: 'linear', min: 0, max: 100,
          afterBuildTicks: s => { s.ticks = xTicks.map(v => ({ value: v })); },
          afterFit: s => { s.height = 47; },
          grid: { display: false, drawTicks: false },
          border: { display: false },
          ticks: { font: tickFont, color: '#000', padding: 11, maxRotation: 0, autoSkip: false },
          title: { display: true, text: 'Radius (km)', font: titleFont, color: '#000', padding: { top: 0, bottom: 4 } }
        },
        y: {
          type: 'linear', min: -0.38, max: 15,
          afterBuildTicks: s => { s.ticks = yTicks.map(v => ({ value: v })); },
          afterFit: s => { s.width = 57; },
          grid: { display: false, drawTicks: false },
          border: { display: false },
          ticks: { font: tickFont, color: '#000', padding: 6, autoSkip: false },
          title: { display: true, text: 'Height (km)', font: titleFont, color: '#000', padding: { top: 11, bottom: 0 } }
        }
      }
    },
    plugins: [labelPlugin, framePlugin, titlePlugin]
  });
});
</script>
</body>
</html>
